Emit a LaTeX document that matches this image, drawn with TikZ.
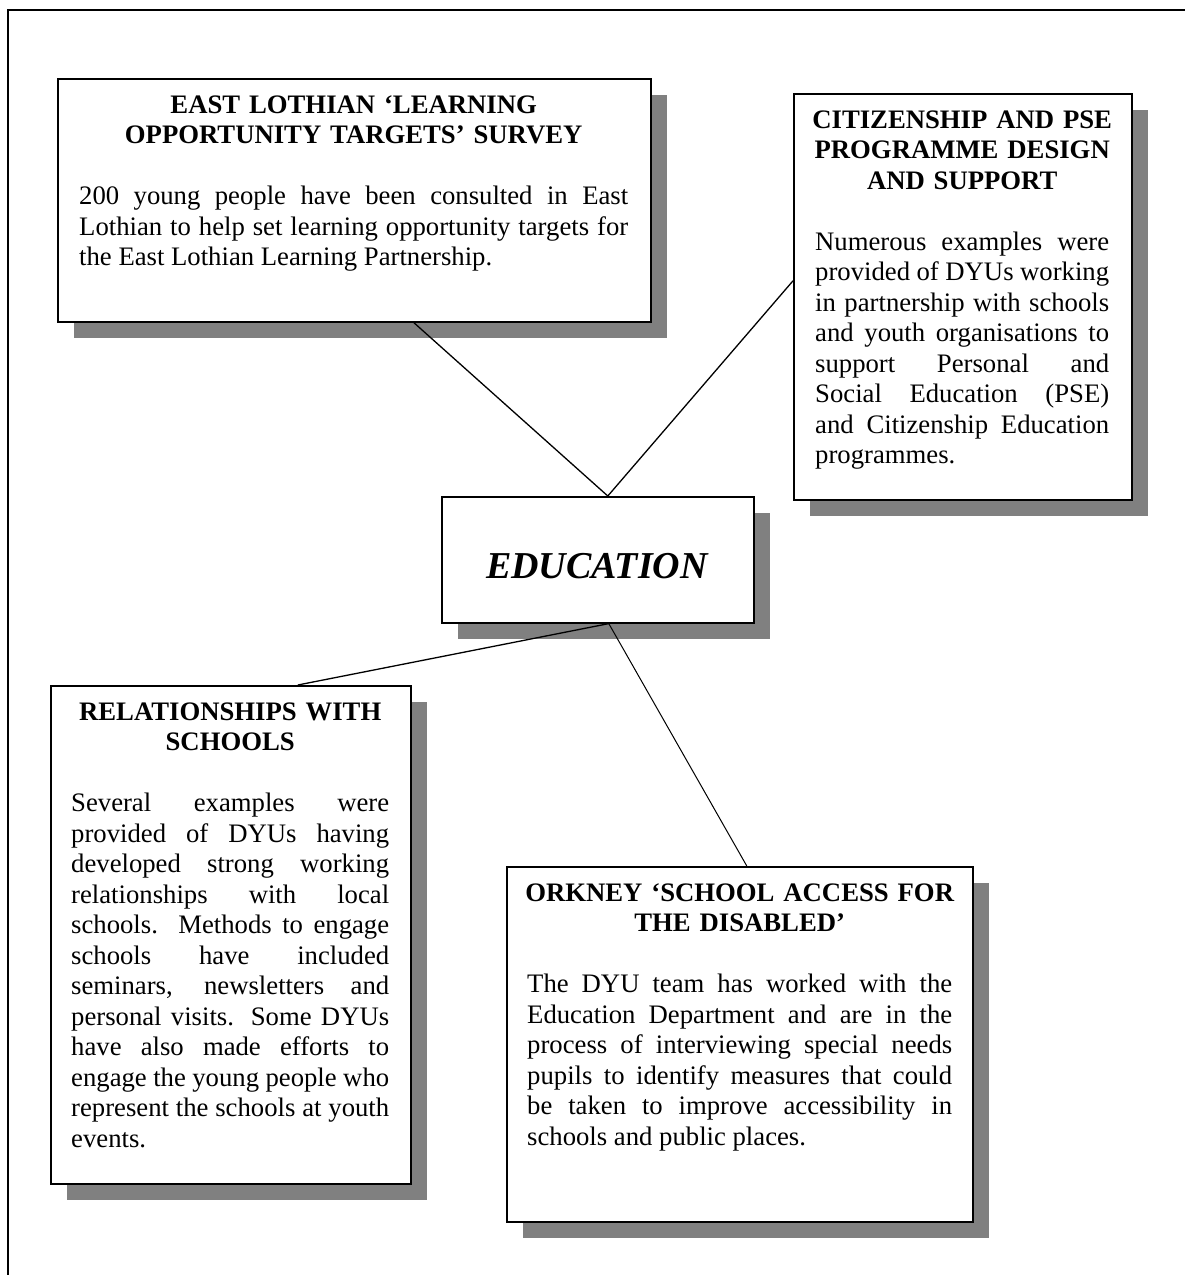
\documentclass[tikz,border=0pt]{standalone}
\usepackage{fontspec}
\setmainfont{Liberation Serif}
\usetikzlibrary{shadows}
\definecolor{shadowgray}{RGB}{128,128,128}
\hbadness=10000
\newcommand\jl[1]{\hbox to\hsize{\spaceskip=0pt\xspaceskip=0pt #1}}
\newcommand\tl[1]{\hbox to\hsize{\hss\bfseries #1\hss}}
\newcommand\lastln[1]{\hbox{\spaceskip=0pt\xspaceskip=0pt #1}}
\newcommand\gap{\vskip\baselineskip}
\begin{document}
\begin{tikzpicture}[x=1pt,y=-1pt,
  boxshape/.style={draw=black, line width=1.6pt, fill=white, inner sep=0pt, anchor=north west,
    drop shadow={shadow xshift=16pt, shadow yshift=-16pt, fill=shadowgray, opacity=1}},
  boxtext/.style={anchor=base west, inner sep=0pt,
    font=\fontsize{26.7}{30.5}\selectfont},
  link/.style={draw=black, line width=1.3pt},
  frameline/.style={draw=black, line width=2pt}]
\useasboundingbox (0,0) rectangle (1185,1275);

% outer frame (top and left sides visible)
\coordinate (fbl) at (8,1276);
\coordinate (ftl) at (8,10);
\coordinate (ftr) at (1186,10);
\draw[frameline] (fbl) -- (ftl) -- (ftr);

% boxes
\node[boxshape, minimum width=593pt, minimum height=243pt] (b1) at (57,78) {};
\node[boxshape, minimum width=338pt, minimum height=406pt] (b2) at (793,93) {};
\node[boxshape, minimum width=312pt, minimum height=126pt] (edu) at (441,496) {};
\node[boxshape, minimum width=360pt, minimum height=498pt] (b3) at (50,685) {};
\node[boxshape, minimum width=466pt, minimum height=355pt] (b4) at (506,866) {};

% connectors
\draw[link] ([xshift=59.5pt]b1.south) -- ([xshift=10pt]edu.north);
\draw[link] ([yshift=16pt]b2.west) -- ([xshift=10pt]edu.north);
\draw[link] ([xshift=11pt]edu.south) -- ([xshift=67pt]b3.north);
\draw[link, line width=1pt] ([xshift=11pt]edu.south) -- ([xshift=7pt]b4.north);

% texts
\node[boxtext, text width=549pt] (t1) at (79,113) {%
\tl{EAST LOTHIAN ‘LEARNING}
\tl{OPPORTUNITY TARGETS’ SURVEY}
\gap
\jl{200 young people have been consulted in East}
\jl{Lothian to help set learning opportunity targets for}
\lastln{the East Lothian Learning Partnership.}};

\node[boxtext, text width=294pt] (t2) at (815,128) {%
\tl{CITIZENSHIP AND PSE}
\tl{PROGRAMME DESIGN}
\tl{AND SUPPORT}
\gap
\jl{Numerous examples were}
\jl{provided of DYUs working}
\jl{in partnership with schools}
\jl{and youth organisations to}
\jl{support Personal and}
\jl{Social Education (PSE)}
\jl{and Citizenship Education}
\lastln{programmes.}};

\node[anchor=base, inner sep=0pt, font=\fontsize{38}{44}\selectfont\bfseries\itshape] (edut) at (597,578) {EDUCATION};

\node[boxtext, text width=318pt] (t3) at (71,720) {%
\tl{RELATIONSHIPS WITH}
\tl{SCHOOLS}
\gap
\jl{Several examples were}
\jl{provided of DYUs having}
\jl{developed strong working}
\jl{relationships with local}
\jl{schools.  Methods to engage}
\jl{schools have included}
\jl{seminars, newsletters and}
\jl{personal visits.  Some DYUs}
\jl{have also made efforts to}
\jl{engage the young people who}
\jl{represent the schools at youth}
\lastln{events.}};

\node[boxtext, text width=425pt] (t4) at (527,901) {%
\tl{ORKNEY ‘SCHOOL ACCESS FOR}
\tl{THE DISABLED’}
\gap
\jl{The DYU team has worked with the}
\jl{Education Department and are in the}
\jl{process of interviewing special needs}
\jl{pupils to identify measures that could}
\jl{be taken to improve accessibility in}
\lastln{schools and public places.}};
\end{tikzpicture}
\end{document}
